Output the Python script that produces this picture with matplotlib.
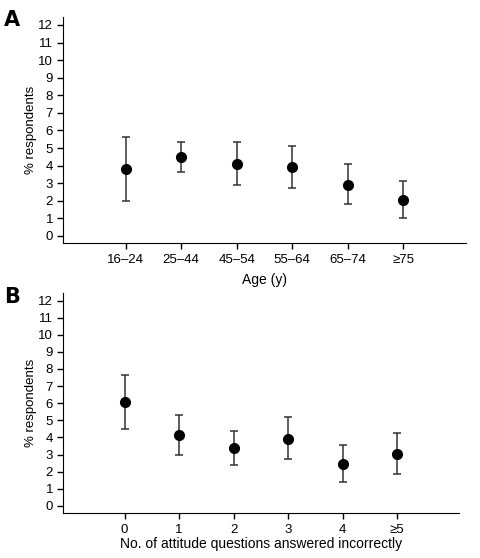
import numpy as np
import matplotlib.pyplot as plt

plt.rcParams['font.family'] = ['Liberation Sans', 'DejaVu Sans']

# panel A: age groups
age_labels = ['16–24', '25–44', '45–54', '55–64', '65–74', '≥75']
age_val = [3.8, 4.5, 4.1, 3.9, 2.9, 2.05]
age_lo = [2.0, 3.65, 2.9, 2.75, 1.8, 1.05]
age_hi = [5.6, 5.35, 5.35, 5.1, 4.1, 3.15]

# panel B: attitude questions answered incorrectly
att_labels = ['0', '1', '2', '3', '4', '≥5']
att_val = [6.05, 4.15, 3.4, 3.9, 2.45, 3.05]
att_lo = [4.5, 3.0, 2.4, 2.75, 1.4, 1.85]
att_hi = [7.65, 5.3, 4.4, 5.2, 3.55, 4.25]


def panel(ax, labels, val, lo, hi, xlabel, xpad):
    x = np.arange(len(labels))
    val = np.array(val)
    yerr = [val - np.array(lo), np.array(hi) - val]
    ax.errorbar(x, val, yerr=yerr, fmt='o', color='black', ecolor='#333333',
                elinewidth=1.1, capsize=3, capthick=1.1, markersize=7)
    ax.set_xlim(-1.13, 6.13)
    ax.set_ylim(-0.4, 12.45)
    ax.set_yticks(range(13))
    ax.set_xticks(x)
    ax.set_xticklabels(labels)
    ax.spines['top'].set_visible(False)
    ax.spines['right'].set_visible(False)
    ax.tick_params(labelsize=9.5, length=4, width=1, pad=3)
    ax.tick_params(axis='x', pad=4)
    ax.set_ylabel('% respondents', fontsize=9.5, labelpad=1)
    ax.set_xlabel(xlabel, fontsize=10, labelpad=xpad)


fig = plt.figure(figsize=(4.8, 5.58), dpi=100)
ax1 = fig.add_axes([0.131, 0.5645, 0.84, 0.405])
ax2 = fig.add_axes([0.131, 0.0812, 0.825, 0.394])

panel(ax1, age_labels, age_val, age_lo, age_hi, 'Age (y)', 5)
panel(ax2, att_labels, att_val, att_lo, att_hi,
      'No. of attitude questions answered incorrectly', 1)

fig.text(0.008, 0.982, 'A', fontsize=15, fontweight='heavy',
         va='top', ha='left', family='DejaVu Sans')
fig.text(0.008, 0.485, 'B', fontsize=15, fontweight='heavy',
         va='top', ha='left', family='DejaVu Sans')

fig.savefig('out.png', dpi=100)
